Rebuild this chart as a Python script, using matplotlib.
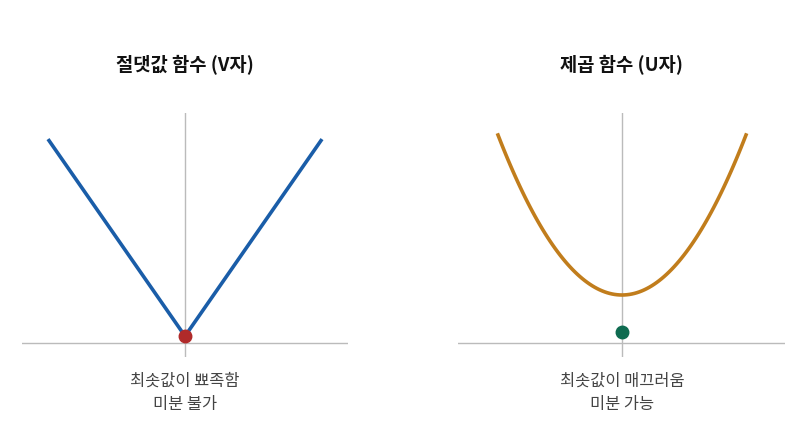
import matplotlib.pyplot as plt
import numpy as np

plt.rcParams['font.family'] = ['Noto Sans CJK KR', 'DejaVu Sans']

# panel texts
titles = ['절댓값 함수 (V자)', '제곱 함수 (U자)']
captions = ['최솟값이 뾰족함\n미분 불가', '최솟값이 매끄러움\n미분 가능']

# left: y = |x| on [-1, 1]
abs_x = [-1.0, 0.0, 1.0]
abs_y = [1.0, 0.0, 1.0]
abs_min = (0.0, 0.0)

# right: y = x^2 + 0.3 on [-1, 1]
sq_x = np.linspace(-1, 1, 101)
sq_offset = 0.3
sq_dot = (0.0, 0.07)

W, H = 799, 444
fig = plt.figure(figsize=(W / 100, H / 100), dpi=100)

def px_axes(x0, x1, y0, y1):
    return fig.add_axes([x0 / W, 1 - y1 / H, (x1 - x0) / W, (y1 - y0) / H])

text_col = '#444444'
grid_col = '#bbbbbb'

# left panel
ax1 = px_axes(22, 348, 113, 357)
ax1.set_xlim(-163 / 137, 163 / 137)
ax1.set_ylim(-0.035 - 14 / 197, -0.035 + 230 / 197)
ax1.axhline(-0.035, color=grid_col, lw=1)
ax1.axvline(0, color=grid_col, lw=1, ymax=1)
ax1.plot(abs_x, abs_y, color='#1a5da8', lw=2.6, solid_capstyle='butt', zorder=3)
ax1.plot(*abs_min, 'o', color='#b02a2a', ms=9, zorder=4)
ax1.axis('off')

# right panel
ax2 = px_axes(458, 785, 113, 357)
ax2.set_xlim(-164 / 124, 163 / 124)
ax2.set_ylim(-14 / 160, 230 / 160)
ax2.axhline(0, color=grid_col, lw=1)
ax2.axvline(0, color=grid_col, lw=1)
ax2.plot(sq_x, sq_x ** 2 + sq_offset, color='#c17d1c', lw=2.6, zorder=3)
ax2.plot(*sq_dot, 'o', color='#0e6b50', ms=9, zorder=4)
ax2.axis('off')

for cx, t, c in zip([185, 622], titles, captions):
    fig.text(cx / W, 1 - 65 / H, t, ha='center', va='center',
             fontsize=13.5, fontweight='bold', color='#111111')
    fig.text(cx / W, 1 - 393 / H, c, ha='center', va='center',
             fontsize=11.8, color=text_col, linespacing=1.5)

fig.savefig('out.png', dpi=100)
